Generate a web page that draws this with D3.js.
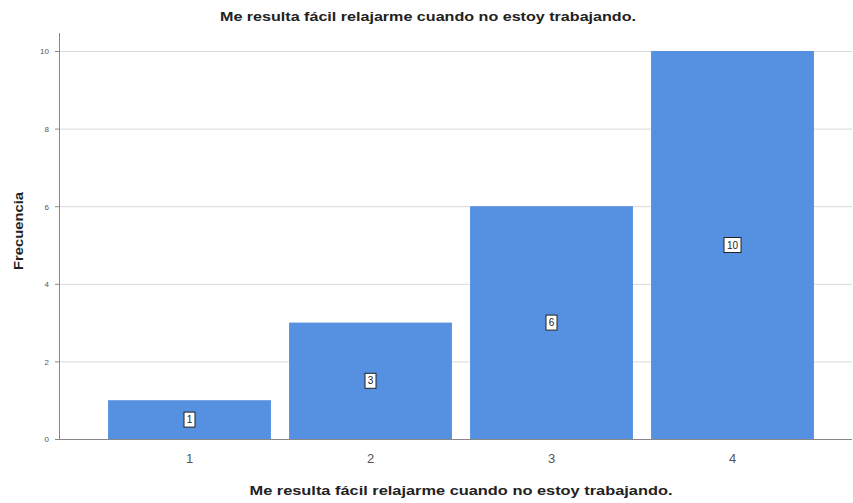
<!DOCTYPE html>
<html>
<head>
<meta charset="utf-8">
<script src="https://cdn.jsdelivr.net/npm/d3@7"></script>
<style>
  body { margin: 0; background: #fff; }
  svg { display: block; font-family: Arial, "Liberation Sans", sans-serif; }
  .grid line { stroke: #d9d9d9; stroke-width: 1; }
  .ytick text { fill: #555; font-size: 8px; }
  .xtick text { fill: #555; font-size: 13px; }
</style>
</head>
<body>
<svg width="853" height="503"></svg>
<script>
"use strict"

const title = "Me resulta fácil relajarme cuando no estoy trabajando."
const yTitle = "Frecuencia"
const categories = ["1", "2", "3", "4"]
const counts = [1, 3, 6, 10]
const yTicks = [0, 2, 4, 6, 8, 10]

let svg = d3.select("svg"),
    width = +svg.attr("width"),
    height = +svg.attr("height")

let plotL = 59, plotR = 852, plotT = 33, plotB = 439

let x = d3.scaleBand()
    .domain(categories)
    .range([99, 823])
    .paddingInner(0.1)
    .paddingOuter(0.05)

let y = d3.scaleLinear()
    .domain([0, 10])
    .range([plotB, 51])

// gridlines
svg.append("g").attr("class", "grid")
  .selectAll("line")
  .data(yTicks.filter(d => d > 0))
  .enter().append("line")
    .attr("x1", plotL + 1).attr("x2", plotR)
    .attr("y1", d => y(d) + 0.5).attr("y2", d => y(d) + 0.5)

// bars
let data = categories.map((c, i) => ({cat: c, n: counts[i]}))

svg.append("g").selectAll("rect")
  .data(data)
  .enter().append("rect")
    .attr("x", d => x(d.cat))
    .attr("width", x.bandwidth())
    .attr("y", d => y(d.n))
    .attr("height", d => plotB - y(d.n))
    .attr("fill", "#5591e0")

// value labels in boxes
let lab = svg.append("g").selectAll("g")
  .data(data)
  .enter().append("g")
    .attr("transform", d => "translate(" + (x(d.cat) + x.bandwidth() / 2) + "," + y(d.n / 2) + ")")

lab.append("rect")
  .attr("x", d => d.n >= 10 ? -8.5 : -5.5)
  .attr("y", -7.5)
  .attr("width", d => d.n >= 10 ? 17 : 11)
  .attr("height", 15)
  .attr("fill", "#fff")
  .attr("stroke", "#222")
  .attr("stroke-width", 1)

lab.append("text")
  .attr("text-anchor", "middle")
  .attr("dy", "0.35em")
  .attr("font-size", 10)
  .attr("fill", "#222")
  .text(d => d.n)

// axes
svg.append("line")
  .attr("x1", plotL + 0.5).attr("x2", plotL + 0.5)
  .attr("y1", plotT).attr("y2", plotB + 0.5)
  .attr("stroke", "#888")
svg.append("line")
  .attr("x1", plotL).attr("x2", plotR)
  .attr("y1", plotB + 0.5).attr("y2", plotB + 0.5)
  .attr("stroke", "#888")

let yt = svg.append("g").attr("class", "ytick").selectAll("g")
  .data(yTicks)
  .enter().append("g")
    .attr("transform", d => "translate(0," + (y(d) + 0.5) + ")")
yt.append("line").attr("x1", plotL - 4).attr("x2", plotL).attr("stroke", "#888")
yt.append("text")
  .attr("x", plotL - 10)
  .attr("dy", "0.35em")
  .attr("text-anchor", "end")
  .text(d => d)

svg.append("g").attr("class", "xtick").selectAll("text")
  .data(categories)
  .enter().append("text")
    .attr("x", d => x(d) + x.bandwidth() / 2)
    .attr("y", 463)
    .attr("text-anchor", "middle")
    .text(d => d)

// titles
svg.append("text")
  .attr("x", 428).attr("y", 21)
  .attr("text-anchor", "middle")
  .attr("font-size", 12.5).attr("font-weight", "bold").attr("fill", "#222")
  .attr("textLength", 416).attr("lengthAdjust", "spacingAndGlyphs")
  .text(title)

svg.append("text")
  .attr("x", 461).attr("y", 495)
  .attr("text-anchor", "middle")
  .attr("font-size", 12.5).attr("font-weight", "bold").attr("fill", "#222")
  .attr("textLength", 423).attr("lengthAdjust", "spacingAndGlyphs")
  .text(title)

svg.append("text")
  .attr("transform", "translate(23,231) rotate(-90)")
  .attr("text-anchor", "middle")
  .attr("font-size", 13).attr("font-weight", "bold").attr("fill", "#222")
  .attr("textLength", 78).attr("lengthAdjust", "spacingAndGlyphs")
  .text(yTitle)
</script>
</body>
</html>
